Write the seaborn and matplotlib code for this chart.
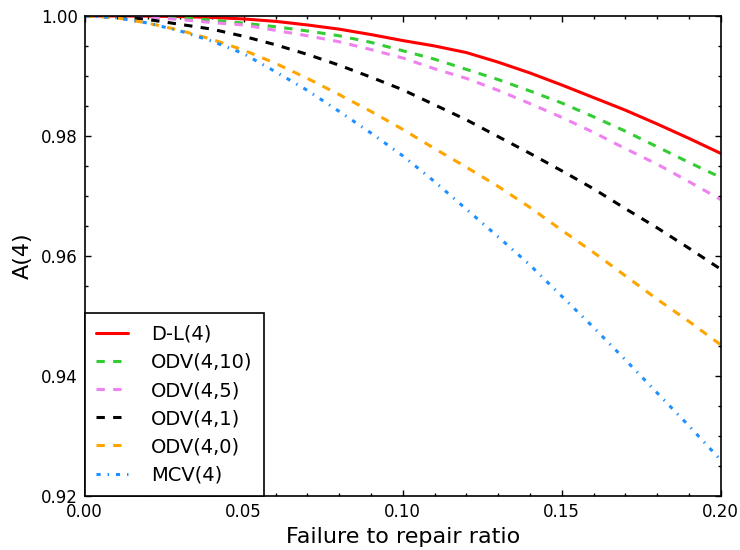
import matplotlib
matplotlib.use("Agg")
import matplotlib.pyplot as plt
import seaborn as sns
from matplotlib.ticker import MultipleLocator, FormatStrFormatter

# failure to repair ratio at 0.01 steps
ratio = [0.00, 0.01, 0.02, 0.03, 0.04, 0.05, 0.06, 0.07, 0.08, 0.09, 0.10,
         0.11, 0.12, 0.13, 0.14, 0.15, 0.16, 0.17, 0.18, 0.19, 0.20]

dl_4 = [1.0, 1.0, 0.99997, 0.9999, 0.99975, 0.9995, 0.9991, 0.9985, 0.9978, 0.9969, 0.9959,
        0.9950, 0.9939, 0.9923, 0.9905, 0.9885, 0.9864, 0.9843, 0.9820, 0.9796, 0.9771]
odv_4_10 = [1.0, 0.99998, 0.9999, 0.9997, 0.9993, 0.9988, 0.9982, 0.9975, 0.9967, 0.9956, 0.9942,
            0.9928, 0.9911, 0.9894, 0.9875, 0.9855, 0.9832, 0.9808, 0.9782, 0.9756, 0.9731]
odv_4_5 = [1.0, 0.99995, 0.9998, 0.9994, 0.9989, 0.9985, 0.9976, 0.9967, 0.9957, 0.9944, 0.9930,
           0.9912, 0.9896, 0.9876, 0.9854, 0.9831, 0.9806, 0.9779, 0.9753, 0.9724, 0.9694]
odv_4_1 = [1.0, 0.99995, 0.9994, 0.9986, 0.9978, 0.9966, 0.9952, 0.9936, 0.9918, 0.9898, 0.9877,
           0.9852, 0.9827, 0.9799, 0.9771, 0.9742, 0.9712, 0.9679, 0.9647, 0.9613, 0.9578]
odv_4_0 = [1.0, 0.9997, 0.9988, 0.9976, 0.9961, 0.9943, 0.9921, 0.9896, 0.9869, 0.9841, 0.9811,
           0.9779, 0.9748, 0.9716, 0.9681, 0.9643, 0.9606, 0.9567, 0.9528, 0.9491, 0.9452]
mcv_4 = [1.0, 0.9997, 0.9988, 0.9975, 0.9958, 0.9937, 0.9907, 0.9876, 0.9841, 0.9805, 0.9767,
         0.9724, 0.9678, 0.9632, 0.9585, 0.9533, 0.9481, 0.9427, 0.9372, 0.9317, 0.9260]

labels = ["D-L(4)", "ODV(4,10)", "ODV(4,5)", "ODV(4,1)", "ODV(4,0)", "MCV(4)"]
series = [dl_4, odv_4_10, odv_4_5, odv_4_1, odv_4_0, mcv_4]
colors = ["#ff0000", "#32cd32", "#ee82ee", "#000000", "#ffa500", "#1e90ff"]
styles = ["-", (0, (6, 6)), (0, (6, 6)), (0, (6, 6)), (0, (6, 6)), (0, (3, 5, 1, 5))]

sns.set_style("ticks")
plt.rcParams["font.family"] = ["DejaVu Sans"]
plt.rcParams["lines.scale_dashes"] = False
plt.rcParams["text.color"] = "black"
plt.rcParams["axes.labelcolor"] = "black"

fig, ax = plt.subplots(figsize=(7.4, 5.5), dpi=100)
fig.subplots_adjust(left=0.1145, right=0.974, top=0.971, bottom=0.098)

for vals, lab, col, ls in zip(series, labels, colors, styles):
    sns.lineplot(x=ratio, y=vals, ax=ax, color=col, linestyle=ls, linewidth=2.2, label=lab)

ax.set_xlim(0, 0.2)
ax.set_ylim(0.92, 1.0)
ax.xaxis.set_major_locator(MultipleLocator(0.05))
ax.xaxis.set_minor_locator(MultipleLocator(0.01))
ax.xaxis.set_major_formatter(FormatStrFormatter("%.2f"))
ax.yaxis.set_major_locator(MultipleLocator(0.02))
ax.yaxis.set_minor_locator(MultipleLocator(0.005))
ax.yaxis.set_major_formatter(FormatStrFormatter("%.2f"))
ax.tick_params(which="both", direction="in", top=True, right=True, colors="black", labelsize=12)
ax.tick_params(which="major", length=4, width=1, pad=5)
ax.tick_params(which="minor", length=2, width=1)
for sp in ax.spines.values():
    sp.set_visible(True)
    sp.set_color("black")
    sp.set_linewidth(1.2)

ax.set_xlabel("Failure to repair ratio", fontsize=16)
ax.set_ylabel("A(4)", fontsize=16, labelpad=6)

leg = ax.legend(loc="lower left", borderaxespad=0, fancybox=False, fontsize=14,
                handlelength=1.6, handletextpad=1.2, labelspacing=0.47, borderpad=0.6,
                framealpha=1)
leg.get_frame().set_edgecolor("black")
leg.get_frame().set_linewidth(1.2)
for t in leg.get_texts():
    t.set_color("black")

fig.savefig("out.png", dpi=100)
